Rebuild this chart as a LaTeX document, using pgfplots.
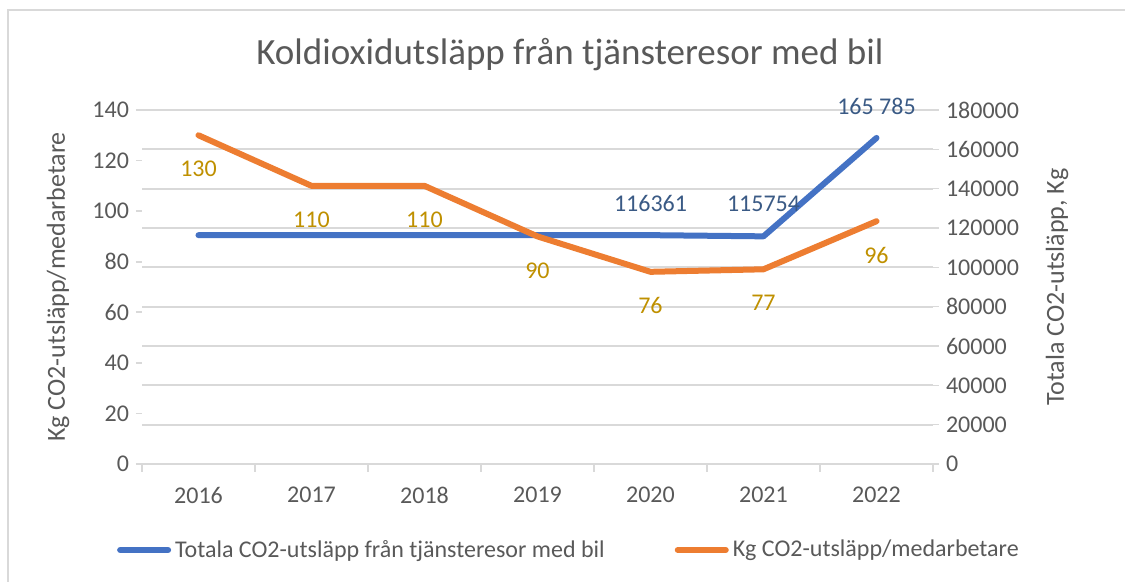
\documentclass[border=0pt]{standalone}
\usepackage{fontspec}
\setmainfont{Carlito}
\usepackage{pgfplots}
\pgfplotsset{compat=1.18}
\definecolor{cblue}{HTML}{4472C4}
\definecolor{corange}{HTML}{ED7D31}
\definecolor{cgold}{HTML}{BF9000}
\definecolor{cnavy}{HTML}{3A5A85}
\definecolor{ctext}{HTML}{595959}
\definecolor{cgrid}{HTML}{D9D9D9}

\pgfplotsset{base/.style={
  scale only axis, width=395.5pt, height=177pt,
  at={(0,0)}, anchor=south west,
  xmin=-0.5, xmax=6.5, ymin=0,
  tick label style={font=\fontsize{12}{14}\selectfont, text=ctext},
  /pgf/number format/assume math mode=true,
  label style={font=\fontsize{13}{15}\selectfont, text=ctext},
  tick align=outside,
}}

\begin{document}
\begin{tikzpicture}
\useasboundingbox (-71pt,-59pt) rectangle (491.5pt,232pt);
\draw[cgrid, line width=1pt] (-67pt,-59pt) -- (-67pt,227pt) -- (491.5pt,227pt);

% right axis: total emissions
\begin{axis}[base,
  ymax=180000, ytick distance=20000,
  axis y line*=right, hide x axis,
  y axis line style={draw=none},
  ytick style={draw=cgrid, line width=0.8pt}, major tick length=3pt,
  ymajorgrids, grid style={cgrid, line width=0.9pt},
  scaled y ticks=false,
  yticklabel style={/pgf/number format/fixed, /pgf/number format/1000 sep={}},
  ylabel={Totala CO2-utsläpp, Kg},
  ylabel style={at={(axis description cs:1.157,0.5)}, anchor=center},
]
\addplot[cblue, line width=3pt, line cap=round, line join=round,
  nodes near coords, point meta=explicit symbolic,
  every node near coord/.append style={anchor=center, yshift=16pt,
    font=\fontsize{12}{14}\selectfont, text=cnavy}]
  coordinates {(0,116361) [] (1,116361) [] (2,116361) [] (3,116361) []
               (4,116361) [116361] (5,115754) [115754] (6,165785) [165 785]};
\end{axis}

% left axis: per employee
\begin{axis}[base,
  ymax=140, ytick distance=20,
  axis y line*=left, axis x line*=bottom,
  y axis line style={draw=none},
  x axis line style={draw=cgrid, line width=1pt, -},
  xtick={0,...,6}, xticklabels={2016,2017,2018,2019,2020,2021,2022},
  major x tick style={draw=none},
  minor xtick={-0.5,0.5,...,6.5},
  minor x tick style={draw=cgrid, line width=0.8pt},
  minor tick length=4pt,
  ytick style={draw=cgrid, line width=0.8pt}, major tick length=3pt,
  xticklabel style={yshift=-5pt},
  ylabel={Kg CO2-utsläpp/medarbetare},
  ylabel style={at={(axis description cs:-0.106,0.5)}, anchor=center},
  title={Koldioxidutsläpp från tjänsteresor med bil},
  title style={at={(axis description cs:0.541,1.124)}, anchor=center,
    font=\fontsize{18.5}{22}\selectfont, text=ctext},
  legend columns=2,
  legend style={draw=none, fill=none, at={(axis description cs:0.541,-0.243)},
    anchor=center, font=\fontsize{12}{14}\selectfont, text=ctext,
    /tikz/every even column/.append style={column sep=33pt}},
  legend image code/.code={\draw[#1] (0pt,0pt) -- (24pt,0pt);},
]
\addlegendimage{cblue, line width=3pt, line cap=round}
\addlegendentry{Totala CO2-utsläpp från tjänsteresor med bil}
\addlegendimage{corange, line width=3pt, line cap=round}
\addlegendentry{Kg CO2-utsläpp/medarbetare}
\addplot[corange, line width=3pt, line cap=round, line join=round, forget plot,
  nodes near coords, point meta=explicit symbolic,
  every node near coord/.append style={anchor=center, yshift=-17pt,
    font=\fontsize{12}{14}\selectfont, text=cgold}]
  coordinates {(0,130) [130] (1,110) [110] (2,110) [110] (3,90) [90]
               (4,76) [76] (5,77) [77] (6,96) [96]};
\end{axis}
\end{tikzpicture}
\end{document}
